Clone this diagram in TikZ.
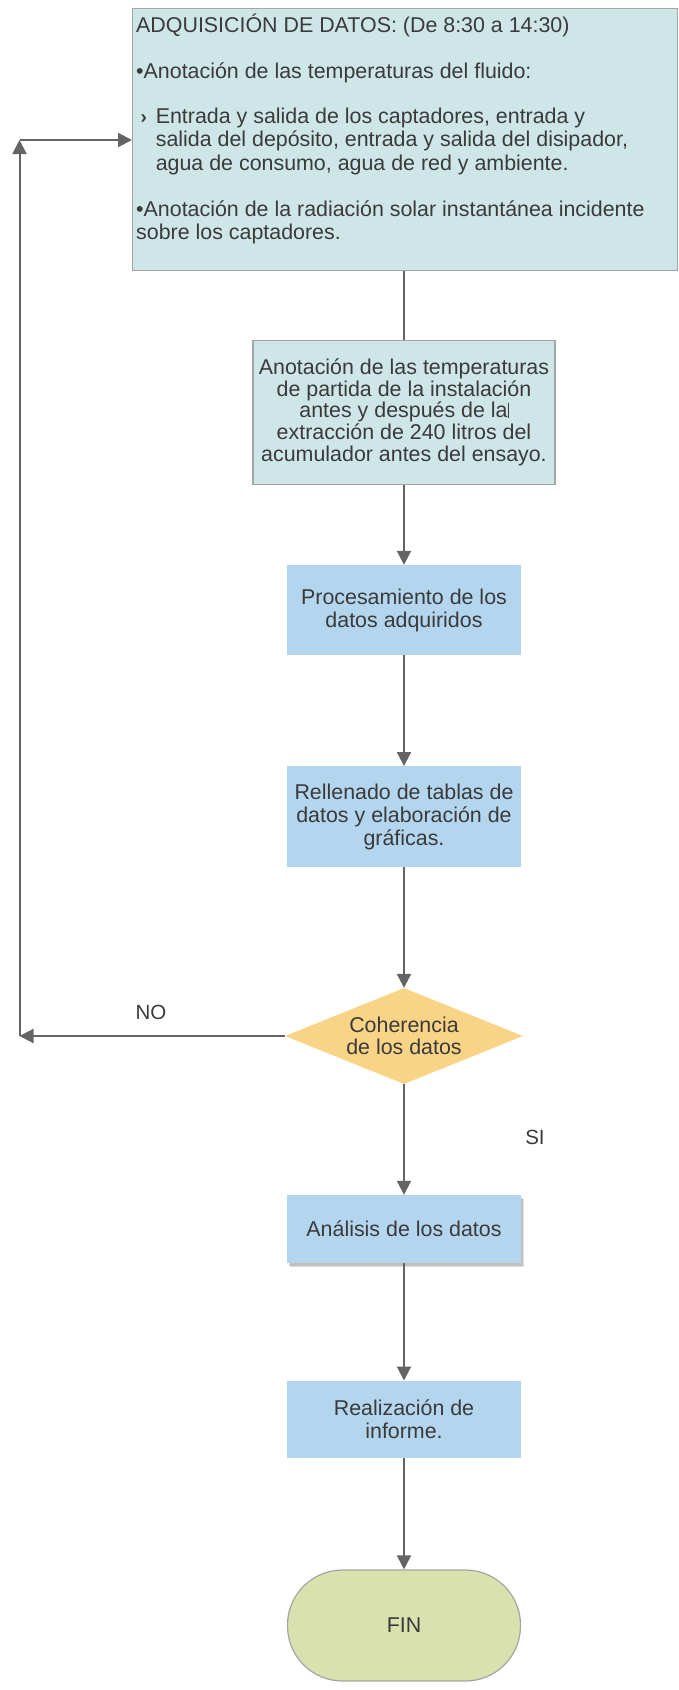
\documentclass[tikz,border=0pt]{standalone}
\usepackage{fontspec}
\setmainfont{Liberation Sans}
\usetikzlibrary{arrows.meta,shapes.geometric,shadows}

\definecolor{tealfill}{RGB}{206,230,232}
\definecolor{boxline}{RGB}{165,165,165}
\definecolor{bluefill}{RGB}{179,214,238}
\definecolor{decfill}{RGB}{250,212,134}
\definecolor{endfill}{RGB}{217,226,174}
\definecolor{ink}{RGB}{58,58,58}
\definecolor{wire}{RGB}{100,100,100}

\begin{document}
\begin{tikzpicture}[x=1pt,y=-1pt,
  txt/.style={font=\fontsize{21.4}{23.3}\selectfont, text=ink, inner sep=0pt},
  notebox/.style={draw=boxline, line width=1.3pt, fill=tealfill, inner sep=0pt},
  procbox/.style={fill=bluefill, minimum width=234pt, align=center, inner sep=0pt,
    font=\fontsize{21.4}{23}\selectfont, text=ink},
  decision/.style={diamond, aspect=2.5, fill=decfill, minimum width=238pt,
    minimum height=96pt, inner sep=0pt, align=center,
    font=\fontsize{21.4}{22.3}\selectfont, text=ink},
  terminal/.style={rectangle, rounded corners=55pt, draw=boxline, line width=1.2pt,
    fill=endfill, minimum width=233pt, minimum height=111pt,
    font=\fontsize{21.4}{23}\selectfont, text=ink},
  flow/.style={draw=wire, line width=2pt, -{Triangle[length=14pt,width=14pt]}},
  plain/.style={draw=wire, line width=2pt},
  lbl/.style={font=\fontsize{20.5}{22}\selectfont, text=ink, inner sep=0pt}
]
\useasboundingbox (0,0) rectangle (678,1690);

% data acquisition block
\node[notebox, anchor=north west, minimum width=544.5pt, minimum height=262.5pt] (datos) at (132,7.5) {};
\node[txt, anchor=base west] (t1) at (136,32.5) {ADQUISICIÓN DE DATOS: (De 8:30 a 14:30)};
\node[txt, anchor=base west] (t2) at (136,78.5) {•Anotación de las temperaturas del fluido:};
\node[txt, anchor=base west, font=\fontsize{19}{19}\selectfont\bfseries] (t3m) at (140.5,123) {›};
\node[txt, anchor=base west] (t3) at (155.6,123.5) {Entrada y salida de los captadores, entrada y};
\node[txt, anchor=base west] (t4) at (155.6,146.8) {salida del depósito, entrada y salida del disipador,};
\node[txt, anchor=base west] (t5) at (155.6,170) {agua de consumo, agua de red y ambiente.};
\node[txt, anchor=base west] (t6) at (136,216.5) {•Anotación de la radiación solar instantánea incidente};
\node[txt, anchor=base west] (t7) at (136,239.5) {sobre los captadores.};

% initial temperatures block
\node[notebox, minimum width=302pt, minimum height=144pt, align=center,
  font=\fontsize{21.4}{21.7}\selectfont, text=ink] (partida) at (404,412.2)
  {Anotación de las temperaturas\\de partida de la instalación\\antes y después de la\rule{0.9pt}{15pt}\\extracción de 240 litros del\\acumulador antes del ensayo.};

% processing steps
\node[procbox, minimum height=90pt] (proc) at (404,610) {Procesamiento de los\\datos adquiridos};
\node[procbox, minimum height=100.5pt] (tablas) at (404,816.5) {Rellenado de tablas de\\datos y elaboración de\\gráficas.};
\node[decision] (coher) at (404,1036) {Coherencia\\de los datos};
\node[procbox, minimum height=68pt,
  drop shadow={shadow xshift=3pt, shadow yshift=-4pt, opacity=0.12, fill=black},
  drop shadow={shadow xshift=2pt, shadow yshift=-2.5pt, opacity=0.15, fill=black}] (anal) at (404,1229) {Análisis de los datos};
\node[procbox, minimum height=77pt] (informe) at (404,1419.2) {Realización de\\informe.};
\node[terminal] (fin) at (404,1625.5) {FIN};

% main flow
\draw[plain] (datos.south -| partida.north) -- (partida.north);
\draw[flow] (partida.south) -- (proc.north);
\draw[flow] (proc.south) -- (tablas.north);
\draw[flow] (tablas.south) -- (coher.north);
\draw[flow] (coher.south) -- (anal.north);
\draw[flow] (anal.south) -- (informe.north);
\draw[flow] (informe.south) -- (fin.north);

% return loop
\coordinate (loopbot) at (19.5,1036);
\coordinate (looptop) at (19.5,140);
\draw[flow] (coher.west) -- (loopbot);
\draw[flow] (loopbot) -- (looptop);
\draw[flow] (looptop) -- (looptop -| datos.west);

\node[lbl] (no) at (151,1012) {NO};
\node[lbl] (si) at (535,1137) {SI};
\end{tikzpicture}
\end{document}
